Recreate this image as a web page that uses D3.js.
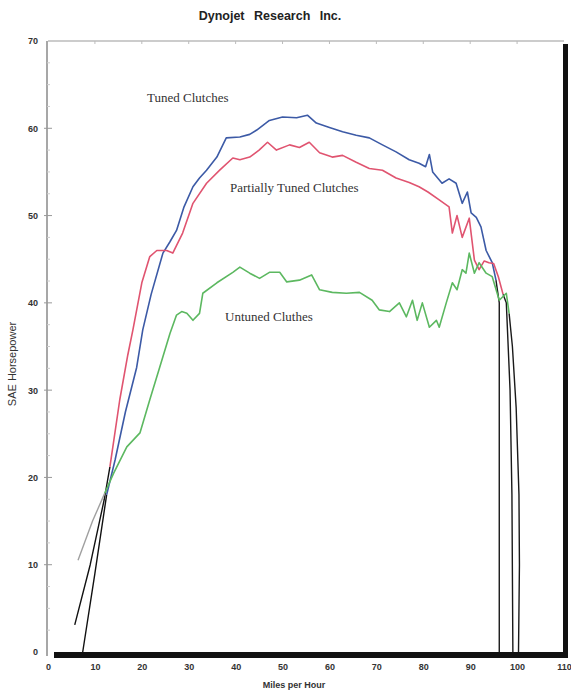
<!DOCTYPE html>
<html>
<head>
<meta charset="utf-8">
<script src="https://cdn.jsdelivr.net/npm/d3@7"></script>
<style>
  body { margin: 0; background: #fff; }
  text { font-family: "Liberation Sans", Arial, sans-serif; }
  .tick-label { font-size: 9px; font-weight: bold; fill: #333; }
  .curve-label { font-family: "Liberation Serif", "Times New Roman", serif; font-size: 13px; fill: #333; }
</style>
</head>
<body>
<div id="chart"></div>
<script>
// speed (mph) and horsepower
var tunedMph = [7.4, 10, 12.5, 14.3, 16.5, 18.9, 20.2, 22, 24.5, 26, 27.4, 29, 30.9, 32.3, 33.8, 36, 38, 40.9, 43, 44.5, 47.2, 50, 53, 55.3, 57.2, 60, 62.8, 65.7, 68.5, 71.3, 74.2, 77, 79.1, 80.5, 81.3, 82, 84, 85.5, 87, 88.3, 89.4, 90.2, 91.3, 92.3, 93.4, 94.7, 95.5, 96.2, 96.2];
var tunedHp  = [0, 9, 18, 22, 27.5, 32.6, 36.9, 41, 45.7, 47, 48.3, 51, 53.3, 54.3, 55.2, 56.7, 58.9, 59, 59.3, 59.8, 60.9, 61.3, 61.2, 61.5, 60.6, 60.1, 59.6, 59.2, 58.9, 58.1, 57.3, 56.4, 56, 55.6, 57, 55, 53.7, 54.2, 53.7, 51.4, 52.7, 50.3, 49.8, 48.7, 46, 44.6, 42.6, 40, 0];

var partialMph = [5.7, 9, 12, 13.2, 15.3, 17, 18.1, 20, 21.7, 23.2, 25.3, 26.6, 28.7, 30.9, 33.8, 36.6, 39.4, 40.9, 43, 45, 46.8, 48.7, 51.5, 53.6, 55.7, 57.9, 60.6, 62.8, 65.7, 68.5, 71.3, 74.2, 77, 79.1, 81, 83.4, 85.5, 86.2, 87.2, 88.3, 89.8, 90.9, 91.9, 93, 94, 95, 96, 97, 97.7, 98.5, 98.9, 99.1];
var partialHp  = [3.1, 10, 17.5, 21.2, 28.9, 34, 36.9, 42.3, 45.3, 46, 46, 45.7, 48, 51.4, 53.7, 55.2, 56.6, 56.4, 56.7, 57.5, 58.4, 57.5, 58.1, 57.8, 58.4, 57.2, 56.7, 56.9, 56.1, 55.4, 55.2, 54.3, 53.8, 53.3, 52.7, 51.8, 51, 48, 50, 47.5, 49.7, 44.9, 43.8, 44.8, 44.6, 44.5, 43, 41, 40, 30, 18, 0];

var untunedMph = [6.4, 9.5, 12.1, 14, 16.8, 19.6, 21.7, 23.8, 26, 27.4, 28.5, 29.6, 30.9, 32.3, 33, 36, 39.4, 40.9, 43, 45.1, 47.2, 49.4, 50.9, 53.6, 56.2, 57.9, 60.6, 63.6, 66.4, 69.1, 70.6, 72.8, 74.9, 76.4, 77.7, 78.7, 79.8, 81.3, 82.8, 83.4, 84.9, 86.2, 87.2, 88.3, 89.1, 89.8, 90.9, 91.9, 93.4, 94.7, 96.2, 97.7, 98.3, 99, 99.8, 100.4, 100.5, 100.3];
var untunedHp  = [10.5, 15, 18.2, 20.5, 23.5, 25.1, 28.9, 32.6, 36.5, 38.6, 39, 38.8, 38, 38.8, 41.1, 42.3, 43.5, 44.1, 43.4, 42.8, 43.5, 43.5, 42.4, 42.6, 43.2, 41.5, 41.2, 41.1, 41.2, 40.3, 39.2, 39, 40, 38.4, 40.3, 38, 40, 37.2, 38, 37.2, 40, 42.3, 41.5, 43.8, 43.4, 45.7, 43.4, 44.6, 43.4, 43, 40.3, 41.1, 38.8, 35, 28, 18, 10, 0];

var seriesNames  = ["Tuned Clutches", "Partially Tuned Clutches", "Untuned Cluthes"];
var seriesColors = ["#3c5aa6", "#e05470", "#5cb860"];
var leadInk      = ["#111", "#111", "#a0a0a0"];
// the pen traces are only coloured between these speeds, black outside
var colorFrom = [12.5, 13.2, 12.1];
var colorTo   = [95.5, 97, 98.3];

var xTicks = [0, 10, 20, 30, 40, 50, 60, 70, 80, 90, 100, 110];
var yTicks = [0, 10, 20, 30, 40, 50, 60, 70];

var width = 571, height = 692;

var svg = d3.select("#chart").append("svg")
    .attr("width", width)
    .attr("height", height);

var x = d3.scaleLinear().domain([0, 110]).range([48, 564]);
var y = d3.scaleLinear().domain([0, 70]).range([652, 41]);

// title
svg.append("text")
    .attr("x", 270)
    .attr("y", 20)
    .attr("text-anchor", "middle")
    .style("font-size", "12.5px")
    .style("font-weight", "bold")
    .style("word-spacing", "6px")
    .style("fill", "#222")
    .text("Dynojet Research Inc.");

// frame: thin top and left, heavy bottom and right
svg.append("line")
    .attr("x1", x(0)).attr("y1", y(70))
    .attr("x2", x(110)).attr("y2", y(70))
    .style("stroke", "#999").style("stroke-width", 1);

svg.append("line")
    .attr("x1", x(0) - 1).attr("y1", y(70))
    .attr("x2", x(0) - 1).attr("y2", y(0) + 4)
    .style("stroke", "#8a8a8a").style("stroke-width", 1.5);

svg.append("rect")
    .attr("x", x(110) - 1).attr("y", y(70) + 3)
    .attr("width", 5).attr("height", y(0) - y(70) + 3)
    .style("fill", "#111");

svg.append("rect")
    .attr("x", x(0) + 6).attr("y", y(0))
    .attr("width", x(110) - x(0) - 2).attr("height", 6)
    .style("fill", "#111");

// left axis ticks and labels
var yAxis = d3.axisLeft(y).tickValues(yTicks).tickSize(0).tickPadding(9);
var yG = svg.append("g").attr("transform", "translate(" + (x(0) - 1) + ",0)").call(yAxis);
yG.select(".domain").remove();
yG.selectAll("text").attr("class", "tick-label");

svg.selectAll(".ymajor")
    .data(yTicks.slice(1, -1))
    .enter().append("line")
    .attr("x1", x(0) - 4).attr("x2", x(0) + 4)
    .attr("y1", function (d) { return y(d); })
    .attr("y2", function (d) { return y(d); })
    .style("stroke", "#999").style("stroke-width", 1);

svg.selectAll(".yminor")
    .data(d3.range(2.5, 70, 2.5).filter(function (d) { return d % 10 != 0; }))
    .enter().append("line")
    .attr("x1", x(0) - 1).attr("x2", x(0) + 2)
    .attr("y1", function (d) { return y(d); })
    .attr("y2", function (d) { return y(d); })
    .style("stroke", "#ccc").style("stroke-width", 1);

svg.selectAll(".xtop")
    .data(xTicks.slice(1, -1))
    .enter().append("line")
    .attr("x1", function (d) { return x(d); })
    .attr("x2", function (d) { return x(d); })
    .attr("y1", y(70)).attr("y2", y(70) + 3)
    .style("stroke", "#bbb").style("stroke-width", 1);

// bottom axis labels
var xAxis = d3.axisBottom(x).tickValues(xTicks).tickSize(0).tickPadding(12);
var xG = svg.append("g").attr("transform", "translate(0," + y(0) + ")").call(xAxis);
xG.select(".domain").remove();
xG.selectAll("text").attr("class", "tick-label");

svg.append("text")
    .attr("x", 294)
    .attr("y", 688)
    .attr("text-anchor", "middle")
    .style("font-size", "9px")
    .style("font-weight", "bold")
    .style("fill", "#333")
    .text("Miles per Hour");

svg.append("text")
    .attr("transform", "translate(16,364) rotate(-90)")
    .attr("text-anchor", "middle")
    .style("font-size", "11px")
    .style("fill", "#333")
    .text("SAE Horsepower");

// curves
var allMph = [tunedMph, partialMph, untunedMph];
var allHp = [tunedHp, partialHp, untunedHp];

var line = d3.line()
    .x(function (d) { return x(d[0]); })
    .y(function (d) { return y(d[1]); });

var plot = svg.append("g");

for (var s = 0; s < 3; s++) {
    var pts = allMph[s].map(function (m, i) { return [m, allHp[s][i]]; });
    var iFrom = pts.findIndex(function (p) { return p[0] >= colorFrom[s]; });
    var iTo = -1;
    for (var k = 0; k < pts.length; k++) {
        if (pts[k][0] <= colorTo[s] && pts[k][1] > 30) { iTo = k; }
    }

    var parts = [
        { pts: pts.slice(0, iFrom + 1), ink: leadInk[s], w: 1.4 },
        { pts: pts.slice(iTo), ink: "#1a1a1a", w: 1.4 },
        { pts: pts.slice(iFrom, iTo + 1), ink: seriesColors[s], w: 1.6 }
    ];

    plot.selectAll(".part" + s)
        .data(parts)
        .enter().append("path")
        .attr("d", function (d) { return line(d.pts); })
        .style("fill", "none")
        .style("stroke", function (d) { return d.ink; })
        .style("stroke-width", function (d) { return d.w; })
        .style("stroke-linejoin", "round");
}

// hand-written curve names
var labelPos = [[147, 102], [230, 192], [225, 321]];
svg.selectAll(".curve-label")
    .data(seriesNames)
    .enter().append("text")
    .attr("class", "curve-label")
    .attr("x", function (d, i) { return labelPos[i][0]; })
    .attr("y", function (d, i) { return labelPos[i][1]; })
    .text(function (d) { return d; });
</script>
</body>
</html>
